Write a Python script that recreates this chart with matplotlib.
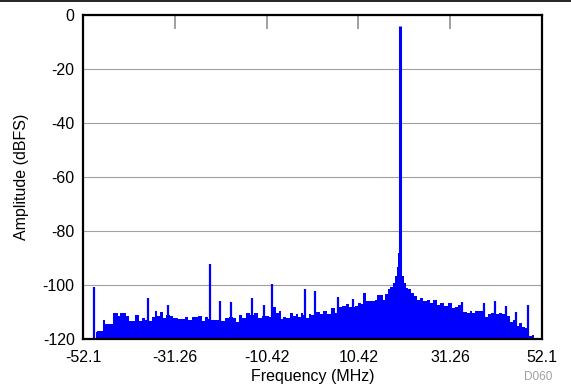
import matplotlib
matplotlib.use("Agg")
import matplotlib.pyplot as plt
from matplotlib.lines import Line2D

plt.rcParams['font.family'] = ['Liberation Sans', 'DejaVu Sans']
plt.rcParams['axes.unicode_minus'] = False

# noise floor (MHz, dBFS)
floor_f = [-49.2, -48.5, -47.8, -47.4, -46.9, -46.2, -45.5, -45.0, -44.5, -44.0,
           -43.5, -42.8, -42.1, -41.4, -40.7, -39.8, -39.2, -38.3, -37.8, -36.9,
           -36.1, -35.5, -34.9, -34.2, -33.6, -32.8, -32.1, -31.1, -30.2, -29.4,
           -28.6, -27.8, -26.7, -25.5, -24.8, -24.0, -23.3, -22.6, -21.5, -20.2,
           -19.5, -18.6, -17.7, -17.2, -16.3, -15.5, -14.7, -13.7, -12.7, -11.9,
           -10.9, -10.0, -9.6, -8.6, -8.0, -7.4, -6.9, -6.3, -5.6, -4.7,
           -4.0, -3.5, -2.9, -2.4, -1.8, -1.2, -0.6, 0.1, 1.25, 2.0,
           2.9, 3.5, 4.7, 5.3, 5.8, 6.4, 7.1, 8.0, 8.7, 9.3,
           9.9, 10.6, 11.2, 11.8, 12.3, 13.2, 14.2, 14.4, 14.9, 15.7,
           16.1, 16.8, 17.4, 18.0, 18.5, 19.0, 19.3, 19.5, 19.8, 20.0,
           20.2, 20.6, 21.0, 21.4, 22.1, 22.7, 23.3, 24.0, 24.8, 25.5,
           26.3, 27.1, 27.8, 28.6, 29.3, 30.3, 31.2, 32.0, 32.7, 33.3,
           34.6, 35.4, 36.0, 36.5, 37.3, 38.2, 39.5, 40.1, 40.9, 42.0,
           42.6, 43.3, 44.4, 45.2, 45.7, 46.7, 47.2, 47.9, 48.5, 49.4,
           50.1, 50.6]
floor_db = [-117.4, -117.0, -117.0, -112.9, -114.5, -114.5, -114.5, -110.4, -110.4, -111.6,
            -110.2, -110.2, -111.4, -113.2, -113.2, -111.1, -113.2, -112.4, -112.8, -113.2,
            -111.9, -109.5, -111.4, -109.9, -112.4, -111.0, -111.4, -112.4, -112.6, -112.6,
            -112.0, -112.9, -112.0, -111.6, -113.2, -112.0, -112.5, -112.9, -112.9, -113.2,
            -112.4, -112.0, -112.4, -113.6, -111.1, -112.4, -110.2, -111.0, -110.4, -112.4,
            -111.5, -111.6, -112.0, -108.3, -110.4, -109.5, -112.6, -111.7, -112.2, -110.2,
            -111.4, -110.6, -112.0, -110.4, -111.0, -112.2, -110.8, -111.1, -109.9, -110.8,
            -109.8, -110.8, -108.6, -110.4, -109.5, -108.3, -107.7, -107.1, -108.3, -108.0,
            -107.7, -106.8, -107.1, -102.8, -105.9, -105.9, -105.9, -105.5, -103.8, -103.8,
            -105.5, -103.4, -101.5, -100.9, -99.1, -96.6, -93.5, -88.0, -86.0, -88.0,
            -94.2, -96.6, -99.1, -101.3, -101.5, -102.8, -104.0, -105.5, -104.8, -105.9,
            -105.6, -106.7, -105.6, -107.5, -106.7, -107.7, -106.7, -108.4, -108.3, -107.5,
            -109.9, -110.4, -109.5, -110.2, -109.5, -109.8, -112.0, -110.6, -110.2, -110.8,
            -110.2, -110.6, -111.4, -113.6, -112.9, -115.2, -113.9, -115.5, -116.0, -118.9,
            -118.5, -120.0]

# spurs
spur_f = [-49.6, -37.4, -32.8, -23.3, -21.0, -18.6, -13.7, -10.9, -9.1, -1.8,
          0.6, 5.8, 9.3, 34.0, 38.9, 41.4, 43.9, 46.3, 49.0]
spur_db = [-100.9, -104.9, -107.5, -92.3, -105.9, -106.2, -104.9, -107.5, -99.7, -101.5,
           -102.4, -104.3, -105.2, -106.2, -106.5, -105.9, -107.9, -109.9, -107.5]

# fundamental
tone_f = [19.8]
tone_db = [-4.0]

xticks = [-52.1, -31.26, -10.42, 10.42, 31.26, 52.1]
xticklabels = ["-52.1", "-31.26", "-10.42", "10.42", "31.26", "52.1"]
yticks = [0, -20, -40, -60, -80, -100, -120]

fig = plt.figure(figsize=(5.71, 3.86), dpi=100)
ax = fig.add_axes([0.1454, 0.1218, 0.8038, 0.8393])

blue = (0, 0, 1)
ax.fill_between(floor_f, floor_db, -120, step='mid', color=blue, lw=0)
ax.vlines(spur_f, -120, spur_db, color=blue, lw=1.6)
ax.vlines(tone_f, -120, tone_db, color=blue, lw=2.2)

ax.set_xlim(-52.1, 52.1)
ax.set_ylim(-120, 0)
ax.set_xticks(xticks)
ax.set_xticklabels(xticklabels)
ax.set_yticks(yticks)
ax.yaxis.grid(True, color='#a0a0a0', lw=0.8)
ax.set_axisbelow(True)

ax.tick_params(axis='x', direction='in', top=True, bottom=False, length=10,
               color='#909090', width=1.2, labelsize=11.5, pad=8)
ax.tick_params(axis='y', length=0, labelsize=11.5, pad=6)
for s in ax.spines.values():
    s.set_linewidth(1.6)
    s.set_color('black')
    s.set_zorder(5)

ax.set_xlabel("Frequency (MHz)", fontsize=11.5, labelpad=3)
ax.set_ylabel("Amplitude (dBFS)", fontsize=11.5, labelpad=10)

fig.add_artist(Line2D([0, 1], [0.998, 0.998], color='black', lw=1.2))
fig.text(0.968, 0.008, "D060", color='#a0a0a0', fontsize=8.5, ha='right', va='bottom')

fig.savefig("out.png", dpi=100)
